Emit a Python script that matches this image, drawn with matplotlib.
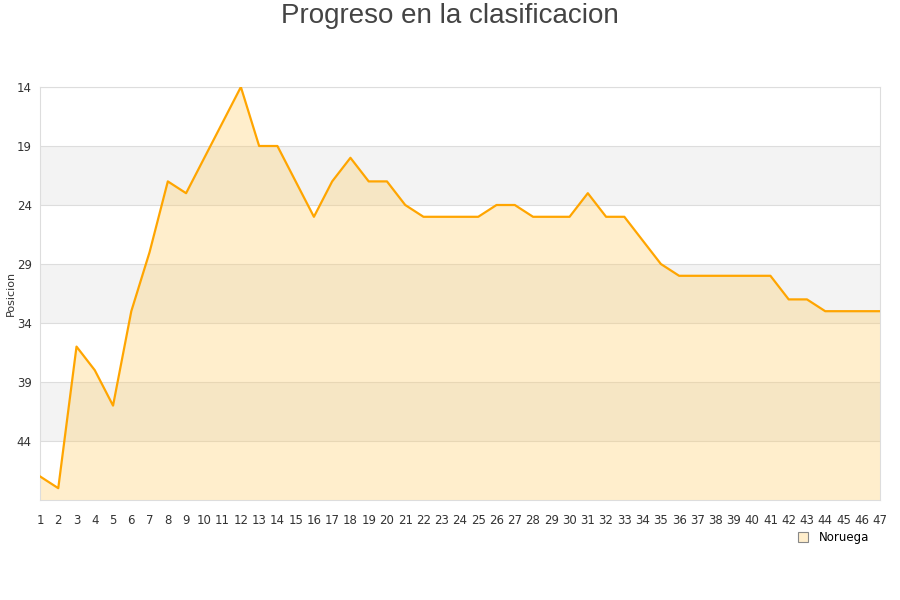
import matplotlib.pyplot as plt
from matplotlib.lines import Line2D

# Jornadas y posiciones de Noruega
jornadas = list(range(1, 48))
posicion = [47, 48, 36, 38, 41, 33, 28, 22, 23, 20,
            17, 14, 19, 19, 22, 25, 22, 20, 22, 22,
            24, 25, 25, 25, 25, 24, 24, 25, 25, 25,
            23, 25, 25, 27, 29, 30, 30, 30, 30, 30,
            30, 32, 32, 33, 33, 33, 33]
yticks = [14, 19, 24, 29, 34, 39, 44]

fig = plt.figure(figsize=(9, 6), dpi=100)
ax = fig.add_axes([40 / 900, 100 / 600, 840 / 900, 413 / 600])

# grey bands
for lo in [19, 29, 39]:
    ax.axhspan(lo, lo + 5, color='#F3F3F3', zorder=0, lw=0)
for t in yticks:
    ax.axhline(t, color='#DDDDDD', lw=0.8, zorder=1)

ax.fill_between(jornadas, posicion, 49, color='#FFCC66', alpha=0.33, lw=0, zorder=2)
ax.plot(jornadas, posicion, color='#FFA500', lw=1.6, zorder=3)

ax.set_xlim(1, 47)
ax.set_ylim(49, 14)
ax.set_xticks(jornadas)
ax.set_yticks(yticks)
ax.tick_params(length=0, labelsize=8.5, colors='#333333')
ax.tick_params(axis='x', pad=10)
ax.tick_params(axis='y', pad=6)
for s in ax.spines.values():
    s.set_color('#DDDDDD')
fig.text(11 / 900, 1 - 293 / 600, 'Posicion', rotation=90, ha='center', va='center',
         fontsize=8, color='#333333')

fig.text(0.5, 1 - 16 / 600, 'Progreso en la clasificacion', ha='center', va='center',
         fontsize=20, color='#444444', family='Liberation Sans')

h = Line2D([], [], marker='s', ls='', markersize=7, markerfacecolor='#FFEECC',
           markeredgecolor='#888888', markeredgewidth=0.8)
fig.legend([h], ['Noruega'], loc='center', bbox_to_anchor=(830 / 900, 1 - 538 / 600),
           frameon=False, fontsize=8.5, handletextpad=0.3)

fig.savefig('out.png')
